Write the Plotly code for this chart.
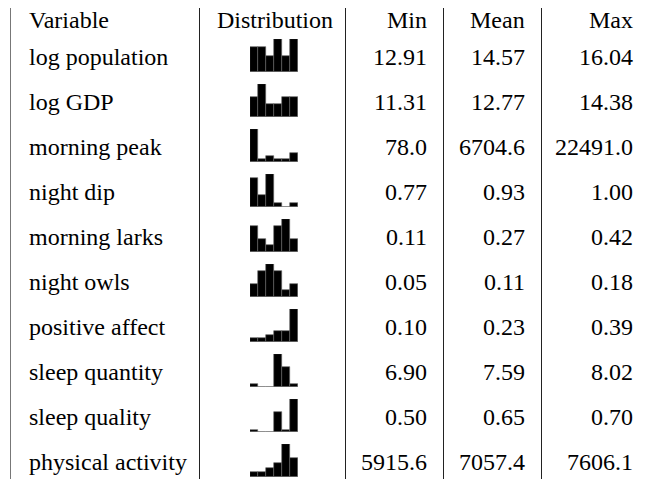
import plotly.graph_objects as go

# The page body has an 8 px margin, so the figure is sized to fill the rest of the window.
W, H = 648, 471
OFF = 8  # screen offset of the figure

variables = ["log population", "log GDP", "morning peak", "night dip", "morning larks",
             "night owls", "positive affect", "sleep quantity", "sleep quality", "physical activity"]
mins = [12.91, 11.31, 78.0, 0.77, 0.11, 0.05, 0.10, 6.90, 0.50, 5915.6]
means = [14.57, 12.77, 6704.6, 0.93, 0.27, 0.11, 0.23, 7.59, 0.65, 7057.4]
maxs = [16.04, 14.38, 22491.0, 1.00, 0.42, 0.18, 0.39, 8.02, 0.70, 7606.1]
decimals = [2, 2, 1, 2, 2, 2, 2, 2, 2, 1]
# histogram bin counts (6 bins) per variable
hist_counts = [
    [3, 3, 2, 4, 2, 4],
    [3, 5, 2, 2, 3, 3],
    [11, 1, 2, 1, 1, 3],
    [7, 3, 8, 1, 0, 1],
    [4, 2, 1, 4, 5, 2],
    [2, 4, 5, 4, 1, 2],
    [1, 1, 2, 3, 3, 9],
    [1, 0, 0, 13, 8, 1],
    [1, 0, 0, 9, 1, 15],
    [1, 1, 2, 3, 7, 4],
]
headers = ["Variable", "Distribution", "Min", "Mean", "Max"]

FONT = "Liberation Serif, Times New Roman, serif"
FS = 24

# layout in screen pixels
col_lines = [10.5, 199.5, 345.5, 443.5, 541.5, 649.5]
line_colors = ["#777777", "#222222", "#222222", "#222222", "#222222", "#333333"]
header_y = 20
row_y0, row_dy = 57, 45
hist_x0, hist_x1 = 250, 298
hist_up, hist_down = 18, 15

def px(x):
    return (x - OFF) / W

def py(y):
    return 1 - (y - OFF) / H

fig = go.Figure()
layout_axes = {}
for i, counts in enumerate(hist_counts):
    cy = row_y0 + row_dy * i
    n = i + 1
    xa = "x" if n == 1 else f"x{n}"
    ya = "y" if n == 1 else f"y{n}"
    fig.add_trace(go.Bar(
        x=list(range(len(counts))), y=counts, xaxis=xa, yaxis=ya,
        marker=dict(color="black", line=dict(color="#666666", width=0.6)),
        showlegend=False, hoverinfo="skip"))
    xkey = "xaxis" if n == 1 else f"xaxis{n}"
    ykey = "yaxis" if n == 1 else f"yaxis{n}"
    layout_axes[xkey] = dict(domain=[px(hist_x0), px(hist_x1)], range=[-0.5, len(counts) - 0.5],
                             visible=False, fixedrange=True, anchor=ya)
    layout_axes[ykey] = dict(domain=[py(cy + hist_down), py(cy - hist_up)], range=[0, max(counts)],
                             visible=False, fixedrange=True, anchor=xa)

shapes = []
for x, c in zip(col_lines, line_colors):
    shapes.append(dict(type="line", xref="paper", yref="paper", x0=px(x), x1=px(x),
                       y0=1, y1=0, line=dict(color=c, width=1)))

annotations = []
def txt(s, x, y, anchor):
    annotations.append(dict(text=s, x=px(x), y=py(y), xref="paper", yref="paper",
                            xanchor=anchor, yanchor="middle", showarrow=False,
                            font=dict(family=FONT, size=FS, color="black")))

pad_l, pad_r = 16, 15
txt(headers[0], col_lines[0] + pad_l, header_y, "left")
txt(headers[1], (col_lines[1] + col_lines[2]) / 2 + 2, header_y, "center")
txt(headers[2], col_lines[3] - pad_r, header_y, "right")
txt(headers[3], col_lines[4] - pad_r, header_y, "right")
txt(headers[4], col_lines[5] - pad_r, header_y, "right")
for i, v in enumerate(variables):
    cy = row_y0 + row_dy * i
    d = decimals[i]
    txt(v, col_lines[0] + pad_l, cy, "left")
    txt(f"{mins[i]:.{d}f}", col_lines[3] - pad_r, cy, "right")
    txt(f"{means[i]:.{d}f}", col_lines[4] - pad_r, cy, "right")
    txt(f"{maxs[i]:.{d}f}", col_lines[5] - pad_r, cy, "right")

fig.update_layout(width=W, height=H, margin=dict(l=0, r=0, t=0, b=0),
                  paper_bgcolor="white", plot_bgcolor="white", bargap=0,
                  shapes=shapes, annotations=annotations, **layout_axes)
fig.write_html("out.html", config={"displayModeBar": False})
